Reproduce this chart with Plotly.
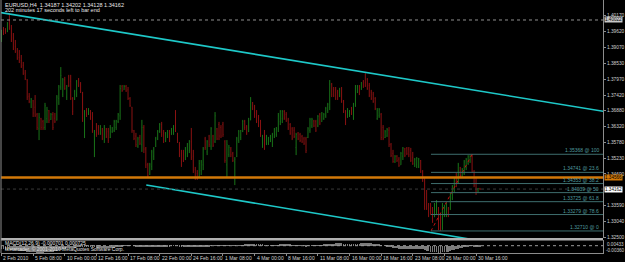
import plotly.graph_objects as go

# ---------------- DATA ----------------
opens = [1.3930,1.3972,1.3966,1.3962,1.3990,1.3972,1.3940,1.3910,1.3895,1.3872,
1.3862,1.3845,1.3818,1.3795,1.3738,1.3718,1.3722,1.3700,1.3675,1.3625,
1.3660,1.3650,1.3630,1.3660,1.3688,1.3658,1.3675,1.3662,1.3655,1.3730,
1.3770,1.3745,1.3795,1.3735,1.3805,1.3790,1.3730,1.3728,1.3745,1.3795,
1.3780,1.3750,1.3650,1.3690,1.3675,1.3688,1.3665,1.3580,1.3640,1.3630,
1.3608,1.3625,1.3590,1.3625,1.3615,1.3595,1.3615,1.3620,1.3630,1.3650,
1.3670,1.3772,1.3760,1.3772,1.3760,1.3730,1.3700,1.3618,1.3600,1.3565,
1.3595,1.3570,1.3630,1.3555,1.3500,1.3468,1.3495,1.3530,1.3565,1.3590,
1.3615,1.3640,1.3610,1.3582,1.3600,1.3615,1.3605,1.3610,1.3640,1.3610,
1.3578,1.3540,1.3535,1.3518,1.3540,1.3550,1.3580,1.3530,1.3485,1.3470,
1.3460,1.3480,1.3500,1.3590,1.3545,1.3600,1.3565,1.3600,1.3580,1.3625,
1.3640,1.3630,1.3640,1.3580,1.3500,1.3535,1.3555,1.3540,1.3510,1.3530,
1.3585,1.3595,1.3615,1.3650,1.3632,1.3615,1.3655,1.3715,1.3700,1.3680,
1.3660,1.3645,1.3565,1.3605,1.3570,1.3575,1.3582,1.3570,1.3600,1.3605,
1.3625,1.3650,1.3660,1.3685,1.3675,1.3655,1.3640,1.3625,1.3620,1.3560,
1.3610,1.3605,1.3598,1.3590,1.3590,1.3595,1.3620,1.3635,1.3652,1.3650,
1.3635,1.3675,1.3650,1.3660,1.3670,1.3690,1.3700,1.3780,1.3760,1.3762,
1.3752,1.3738,1.3765,1.3720,1.3685,1.3665,1.3670,1.3695,1.3670,1.3710,
1.3752,1.3772,1.3762,1.3790,1.3785,1.3795,1.3775,1.3752,1.3745,1.3730,
1.3660,1.3670,1.3675,1.3630,1.3595,1.3600,1.3620,1.3570,1.3540,1.3510,
1.3530,1.3520,1.3500,1.3530,1.3555,1.3558,1.3555,1.3550,1.3525,1.3495,
1.3500,1.3495,1.3515,1.3478,1.3450,1.3400,1.3360,1.3350,1.3340,1.3320,
1.3335,1.3350,1.3300,1.3275,1.3325,1.3322,1.3350,1.3345,1.3385,1.3410,
1.3460,1.3440,1.3490,1.3462,1.3470,1.3490,1.3505,1.3510,1.3530,1.3478,
1.3435,1.3405,1.34187]

highs = [1.3968,1.3978,1.3974,1.3995,1.4026,1.3985,1.3957,1.3933,1.3905,1.3898,
1.3881,1.3857,1.3829,1.3797,1.3749,1.3732,1.3725,1.3742,1.3680,1.3680,
1.3663,1.3656,1.3715,1.3701,1.3690,1.3680,1.3683,1.3680,1.3742,1.3777,
1.3839,1.3801,1.3805,1.3777,1.3812,1.3812,1.3735,1.3760,1.3794,1.3801,
1.3787,1.3753,1.3690,1.3697,1.3697,1.3690,1.3683,1.3621,1.3645,1.3638,
1.3638,1.3628,1.3638,1.3628,1.3628,1.3638,1.3631,1.3656,1.3656,1.3680,
1.3777,1.3777,1.3777,1.3777,1.3770,1.3735,1.3701,1.3621,1.3611,1.3597,
1.3604,1.3656,1.3638,1.3562,1.3507,1.3507,1.3552,1.3562,1.3597,1.3621,
1.3645,1.3649,1.3621,1.3614,1.3621,1.3621,1.3628,1.3638,1.3690,1.3611,
1.3579,1.3552,1.3552,1.3562,1.3576,1.3586,1.3628,1.3552,1.3493,1.3482,
1.3517,1.3517,1.3562,1.3597,1.3586,1.3604,1.3631,1.3604,1.3683,1.3628,
1.3649,1.3638,1.3649,1.3586,1.3586,1.3569,1.3562,1.3545,1.3527,1.3597,
1.3621,1.3621,1.3656,1.3656,1.3638,1.3663,1.3735,1.3718,1.3708,1.3690,
1.3673,1.3656,1.3604,1.3621,1.3604,1.3597,1.3604,1.3611,1.3628,1.3631,
1.3680,1.3690,1.3690,1.3690,1.3683,1.3663,1.3645,1.3631,1.3631,1.3611,
1.3614,1.3611,1.3604,1.3597,1.3597,1.3631,1.3663,1.3663,1.3656,1.3656,
1.3673,1.3680,1.3683,1.3680,1.3701,1.3715,1.3794,1.3784,1.3770,1.3770,
1.3760,1.3767,1.3770,1.3725,1.3690,1.3697,1.3690,1.3701,1.3715,1.3777,
1.3777,1.3777,1.3787,1.3794,1.3818,1.3801,1.3784,1.3760,1.3753,1.3735,
1.3697,1.3697,1.3680,1.3638,1.3621,1.3628,1.3631,1.3576,1.3552,1.3534,
1.3534,1.3527,1.3545,1.3562,1.3559,1.3562,1.3562,1.3559,1.3545,1.3524,
1.3527,1.3524,1.3517,1.3482,1.3458,1.3413,1.3368,1.3368,1.3354,1.3368,
1.3378,1.3354,1.3333,1.3368,1.3361,1.3368,1.3354,1.3403,1.3430,1.3458,
1.3472,1.3507,1.3493,1.3489,1.3517,1.3524,1.3534,1.3534,1.35368,1.3482,
1.3458,1.3420,1.34202]

lows = [1.3926,1.3950,1.3954,1.3960,1.3968,1.3926,1.3898,1.3888,1.3864,1.3853,
1.3836,1.3812,1.3794,1.3725,1.3714,1.3697,1.3666,1.3666,1.3621,1.3586,
1.3621,1.3621,1.3621,1.3645,1.3645,1.3656,1.3621,1.3645,1.3654,1.3708,
1.3760,1.3735,1.3760,1.3725,1.3770,1.3725,1.3673,1.3725,1.3735,1.3770,
1.3749,1.3649,1.3593,1.3666,1.3673,1.3656,1.3611,1.3527,1.3597,1.3604,
1.3604,1.3586,1.3576,1.3593,1.3576,1.3593,1.3611,1.3614,1.3621,1.3645,
1.3656,1.3753,1.3760,1.3753,1.3725,1.3701,1.3611,1.3586,1.3562,1.3559,
1.3569,1.3545,1.3541,1.3489,1.3455,1.3465,1.3482,1.3517,1.3562,1.3586,
1.3611,1.3597,1.3576,1.3579,1.3593,1.3579,1.3604,1.3604,1.3614,1.3576,
1.3527,1.3493,1.3510,1.3517,1.3527,1.3541,1.3517,1.3472,1.3448,1.3448,
1.3458,1.3465,1.3482,1.3552,1.3534,1.3562,1.3552,1.3562,1.3576,1.3586,
1.3586,1.3593,1.3597,1.3507,1.3458,1.3527,1.3527,1.3510,1.3430,1.3527,
1.3576,1.3586,1.3614,1.3621,1.3604,1.3614,1.3655,1.3690,1.3663,1.3645,
1.3631,1.3597,1.3559,1.3552,1.3569,1.3569,1.3579,1.3562,1.3593,1.3597,
1.3614,1.3638,1.3645,1.3656,1.3649,1.3621,1.3604,1.3586,1.3593,1.3534,
1.3586,1.3579,1.3576,1.3569,1.3541,1.3593,1.3611,1.3628,1.3631,1.3614,
1.3631,1.3638,1.3649,1.3656,1.3663,1.3680,1.3690,1.3735,1.3735,1.3725,
1.3725,1.3735,1.3715,1.3680,1.3638,1.3663,1.3666,1.3673,1.3656,1.3701,
1.3749,1.3742,1.3760,1.3767,1.3770,1.3760,1.3735,1.3725,1.3715,1.3690,
1.3656,1.3663,1.3586,1.3586,1.3593,1.3597,1.3562,1.3527,1.3507,1.3507,
1.3510,1.3493,1.3500,1.3517,1.3527,1.3534,1.3527,1.3510,1.3500,1.3493,
1.3489,1.3489,1.3472,1.3441,1.3344,1.3344,1.3319,1.3326,1.3299,1.3319,
1.3326,1.3274,1.3271,1.3275,1.3319,1.3319,1.3319,1.3344,1.3378,1.3403,
1.3423,1.3437,1.3458,1.3458,1.3465,1.3482,1.3500,1.3507,1.3472,1.3423,
1.3396,1.3403,1.34128]

closes = [1.3962,1.3955,1.3958,1.3990,1.3972,1.3935,1.3905,1.3892,1.3870,1.3860,
1.3840,1.3815,1.3798,1.3735,1.3720,1.3728,1.3680,1.3672,1.3630,1.3665,
1.3630,1.3628,1.3705,1.3690,1.3655,1.3675,1.3630,1.3650,1.3735,1.3770,
1.3810,1.3795,1.3765,1.3770,1.3775,1.3730,1.3685,1.3755,1.3790,1.3775,
1.3752,1.3660,1.3685,1.3670,1.3692,1.3660,1.3620,1.3615,1.3605,1.3610,
1.3632,1.3592,1.3630,1.3598,1.3585,1.3630,1.3628,1.3650,1.3652,1.3675,
1.3765,1.3758,1.3772,1.3756,1.3730,1.3705,1.3620,1.3592,1.3570,1.3590,
1.3575,1.3630,1.3555,1.3500,1.3462,1.3500,1.3545,1.3555,1.3590,1.3615,
1.3640,1.3605,1.3580,1.3608,1.3618,1.3585,1.3625,1.3632,1.3620,1.3580,
1.3535,1.3500,1.3515,1.3555,1.3570,1.3580,1.3525,1.3480,1.3455,1.3452,
1.3505,1.3510,1.3555,1.3560,1.3580,1.3570,1.3625,1.3568,1.3670,1.3590,
1.3600,1.3600,1.3605,1.3515,1.3570,1.3560,1.3535,1.3515,1.3520,1.3590,
1.3615,1.3618,1.3650,1.3630,1.3610,1.3655,1.3725,1.3695,1.3670,1.3650,
1.3638,1.3605,1.3598,1.3565,1.3600,1.3590,1.3600,1.3605,1.3622,1.3628,
1.3670,1.3685,1.3686,1.3662,1.3652,1.3628,1.3610,1.3592,1.3598,1.3605,
1.3590,1.3585,1.3580,1.3575,1.3550,1.3625,1.3658,1.3658,1.3635,1.3620,
1.3668,1.3645,1.3680,1.3675,1.3695,1.3710,1.3780,1.3745,1.3740,1.3730,
1.3735,1.3762,1.3720,1.3685,1.3645,1.3690,1.3685,1.3678,1.3710,1.3770,
1.3772,1.3748,1.3785,1.3770,1.3775,1.3765,1.3740,1.3730,1.3720,1.3695,
1.3690,1.3692,1.3595,1.3592,1.3615,1.3622,1.3570,1.3532,1.3512,1.3530,
1.3515,1.3498,1.3540,1.3558,1.3532,1.3540,1.3535,1.3515,1.3505,1.3518,
1.3522,1.3520,1.3478,1.3445,1.3355,1.3350,1.3325,1.3330,1.3305,1.3360,
1.3370,1.3285,1.3275,1.3360,1.3355,1.3362,1.3325,1.3398,1.3425,1.3452,
1.3430,1.3500,1.3465,1.3485,1.3510,1.3518,1.3528,1.3530,1.3478,1.3430,
1.3405,1.3418,1.34162]

macd = [-0.0030,-0.0031,-0.0032,-0.0032,-0.0031,-0.0032,-0.0034,-0.0036,-0.0038,-0.0040,
-0.0042,-0.0044,-0.0046,-0.0049,-0.0051,-0.0052,-0.0054,-0.0055,-0.0057,-0.0057,
-0.0057,-0.0057,-0.0055,-0.0053,-0.0052,-0.0050,-0.0049,-0.0047,-0.0043,-0.0038,
-0.0032,-0.0028,-0.0025,-0.0022,-0.0019,-0.0018,-0.0018,-0.0015,-0.0011,-0.0009,
-0.0008,-0.0009,-0.0010,-0.0011,-0.0011,-0.0012,-0.0013,-0.0014,-0.0015,-0.0016,
-0.0016,-0.0017,-0.0017,-0.0017,-0.0018,-0.0017,-0.0016,-0.0015,-0.0014,-0.0012,
-0.0007,-0.0004,-0.0001,0.0001,0.0002,0.0002,0.0000,-0.0002,-0.0004,-0.0005,
-0.0006,-0.0005,-0.0007,-0.0010,-0.0013,-0.0014,-0.0013,-0.0012,-0.0010,-0.0008,
-0.0006,-0.0005,-0.0005,-0.0004,-0.0003,-0.0003,-0.0002,-0.0001,-0.0001,-0.0002,
-0.0004,-0.0006,-0.0007,-0.0007,-0.0006,-0.0005,-0.0006,-0.0008,-0.0010,-0.0012,
-0.0011,-0.0010,-0.0008,-0.0006,-0.0004,-0.0003,-0.0001,0.0000,0.0003,0.0003,
0.0004,0.0004,0.0004,0.0002,0.0002,0.0001,0.0000,-0.0001,-0.0002,0.0000,
0.0002,0.0003,0.0005,0.0006,0.0006,0.0008,0.0011,0.0012,0.0012,0.0012,
0.0011,0.0009,0.0007,0.0005,0.0004,0.0003,0.0003,0.0003,0.0003,0.0003,
0.0005,0.0007,0.0008,0.0009,0.0009,0.0008,0.0007,0.0005,0.0004,0.0004,
0.0003,0.0001,0.0000,-0.0001,-0.0003,-0.0002,0.0000,0.0001,0.0002,0.0002,
0.0003,0.0004,0.0005,0.0006,0.0008,0.0009,0.0014,0.0016,0.0018,0.0019,
0.0020,0.0021,0.0020,0.0018,0.0015,0.0014,0.0013,0.0012,0.0012,0.0015,
0.0017,0.0018,0.0020,0.0021,0.0022,0.0022,0.0021,0.0019,0.0017,0.0015,
0.0011,0.0009,0.0004,0.0000,-0.0002,-0.0004,-0.0008,-0.0012,-0.0017,-0.0020,
-0.0022,-0.0025,-0.0025,-0.0024,-0.0024,-0.0024,-0.0024,-0.0025,-0.0026,-0.0026,
-0.0026,-0.0025,-0.0027,-0.0030,-0.0036,-0.0040,-0.0045,-0.0048,-0.0052,-0.0053,
-0.0053,-0.0056,-0.0058,-0.0055,-0.0053,-0.0050,-0.0049,-0.0044,-0.0039,-0.0033,
-0.0029,-0.0023,-0.0020,-0.0016,-0.0012,-0.0008,-0.0005,-0.0002,-0.0002,-0.0003,
-0.0005,-0.0006,-0.0007]

time_tick_bars = [0, 16, 32, 48, 64, 80, 96, 112, 128, 144, 160, 176, 192, 208, 224, 240]
time_tick_labels = ["2 Feb 2010", "5 Feb 08:00", "10 Feb 00:00", "12 Feb 16:00", "17 Feb 08:00",
                    "22 Feb 00:00", "24 Feb 16:00", "1 Mar 08:00", "4 Mar 00:00", "8 Mar 16:00",
                    "11 Mar 08:00", "16 Mar 00:00", "18 Mar 16:00", "23 Mar 08:00", "26 Mar 00:00",
                    "30 Mar 16:00"]

price_ticks = [1.40170, 1.39620, 1.39070, 1.38530, 1.37970, 1.37420, 1.36880, 1.36320,
               1.35780, 1.35230, 1.34690, 1.33590, 1.33040, 1.32500]
price_tick_labels = ["1.40170", "1.39620", "1.39070", "1.38530", "1.37970", "1.37420", "1.36880",
                     "1.36320", "1.35780", "1.35230", "1.34690", "1.33590", "1.33040", "1.32500"]

macd_max_label = "0.00433"
macd_min_label = "-0.00360"

fib_prices = [1.35368, 1.34741, 1.34353, 1.34039, 1.33725, 1.33279, 1.32710]
fib_labels = ["1.35368 @ 100", "1.34741 @ 23.6", "1.34353 @ 38.2", "1.34039 @ 50",
              "1.33725 @ 61.8", "1.33279 @ 78.6", "1.32710 @ 0"]
fib_anchor_bars = [217.2, 238.0]
fib_anchor_prices = [1.32710, 1.35368]

upper_channel_bars = [-1.0, 305.0]
upper_channel_prices = [1.40285, 1.36850]
lower_channel_bars = [73.2, 241.0]
lower_channel_prices = [1.34303, 1.32380]

support_price = 1.34566
top_dotted_price = 1.40022
bid_price = 1.34162

title_text = "EURUSD,H4  1.34187 1.34202 1.34128 1.34162"
timer_text = "202 minutes 17 seconds left to bar end"
macd_text = "MACD(12,26,9) -0.000701 0.000725"
copyright_text = "Metatrader, \u00a9 2001-2010 MetaQuotes Software Corp."

n = len(closes)
assert len(opens) == n and len(highs) == n and len(lows) == n and len(macd) == n
bars = list(range(n))

# ---------------- LAYOUT GEOMETRY ----------------
W, H = 625, 262
ML, MR, MT, MB = 1, 19, 0, 9
PH = H - MT - MB  # 253
def py(p):  # pixel from top -> paper y
    return (PH - p) / PH

X_RANGE = [-0.25, 304.2]
Y_RANGE = [1.32466, 1.40715]
M_RANGE = [-0.0060, 0.00468]

FONT = "Liberation Sans, Arial, sans-serif"
TXT = "#d0d0d0"
AX = "#8c8c8c"

fig = go.Figure()

fig.add_trace(go.Ohlc(
    x=bars, open=opens, high=highs, low=lows, close=closes,
    increasing=dict(line=dict(color="#197419", width=1)),
    decreasing=dict(line=dict(color="#8a1212", width=1)),
    tickwidth=0.2, xaxis="x", yaxis="y", hoverinfo="skip", showlegend=False))

fig.add_trace(go.Scatter(x=upper_channel_bars, y=upper_channel_prices, mode="lines",
                         line=dict(color="#1ec8c8", width=1.6), xaxis="x", yaxis="y",
                         showlegend=False, hoverinfo="skip"))
fig.add_trace(go.Scatter(x=lower_channel_bars, y=lower_channel_prices, mode="lines",
                         line=dict(color="#1ec8c8", width=1.6), xaxis="x", yaxis="y",
                         showlegend=False, hoverinfo="skip"))
fig.add_trace(go.Scatter(x=fib_anchor_bars, y=fib_anchor_prices, mode="lines",
                         line=dict(color="#c01010", width=1, dash="dot"), xaxis="x", yaxis="y",
                         showlegend=False, hoverinfo="skip"))

fig.add_trace(go.Bar(x=bars, y=macd, marker=dict(color="#7c7c7c", line=dict(width=0)),
                     width=0.4, xaxis="x", yaxis="y2", showlegend=False, hoverinfo="skip"))

shapes = []
for fp in fib_prices:
    shapes.append(dict(type="line", xref="x", yref="y", x0=fib_anchor_bars[0], x1=X_RANGE[1],
                       y0=fp, y1=fp, line=dict(color="#3e6e6e", width=1)))
shapes.append(dict(type="line", xref="paper", yref="y", x0=0, x1=1, y0=support_price, y1=support_price,
                   line=dict(color="#d27808", width=2.5)))
shapes.append(dict(type="line", xref="paper", yref="y", x0=0, x1=1, y0=top_dotted_price, y1=top_dotted_price,
                   line=dict(color="#909090", width=1, dash="dot")))
shapes.append(dict(type="line", xref="paper", yref="y", x0=0, x1=1, y0=bid_price, y1=bid_price,
                   line=dict(color="#3a3a3a", width=1, dash="dot")))
shapes.append(dict(type="line", xref="paper", yref="y2", x0=0, x1=1, y0=0, y1=0,
                   line=dict(color="#9a9a9a", width=1, dash="dot")))
shapes.append(dict(type="rect", xref="paper", yref="paper", x0=0, x1=1, y0=py(240.5), y1=py(238),
                   fillcolor="#b0b0b0", line=dict(width=0), layer="above"))
shapes.append(dict(type="line", xref="paper", yref="paper", x0=0, x1=0, y0=0, y1=1,
                   line=dict(color=AX, width=1)))

ann = []
def txt(text, x, ypix, size=5.5, color="#e8e8e8", xanchor="left"):
    ann.append(dict(text=text, xref="paper", yref="paper", x=x, y=py(ypix), xanchor=xanchor,
                    yanchor="middle", showarrow=False, font=dict(family=FONT, size=size, color=color)))
txt(title_text, 0.003, 4.5)
txt(timer_text, 0.003, 10.5)
txt(macd_text, 0.003, 243.3, size=5, color="#e0e0e0")
txt(copyright_text, 0.003, 248.7, size=5, color="#e0e0e0")
for fp, fl in zip(fib_prices, fib_labels):
    ann.append(dict(text=fl, xref="paper", yref="y", x=0.997, y=fp, xanchor="right", yanchor="bottom",
                    yshift=-1, showarrow=False, font=dict(family=FONT, size=5, color="#4f9a9f")))
for b, t in zip(time_tick_bars, time_tick_labels):
    ann.append(dict(text=t, xref="x", yref="paper", x=b, y=py(257.5), xanchor="left", yanchor="middle",
                    showarrow=False, font=dict(family=FONT, size=5, color=TXT)))
ann.append(dict(text=macd_max_label, xref="paper", yref="paper", x=1.0, y=py(244.2), xanchor="left",
                yanchor="middle", xshift=2, showarrow=False, font=dict(family=FONT, size=4.6, color=TXT)))
ann.append(dict(text=macd_min_label, xref="paper", yref="paper", x=1.0, y=py(250.3), xanchor="left",
                yanchor="middle", xshift=1, showarrow=False, font=dict(family=FONT, size=4.6, color=TXT)))

def box(price, text, bg, fg):
    ann.append(dict(text=text, xref="paper", yref="y", x=1.0, y=price, xanchor="left", yanchor="middle",
                    xshift=1, showarrow=False, bgcolor=bg, borderpad=0, height=5,
                    font=dict(family=FONT, size=4.6, color=fg)))
box(top_dotted_price, "1.40022", "#c8c8c8", "#000000")
box(support_price, "1.34566", "#d27808", "#000000")
box(bid_price, "1.34162", "#ffffff", "#000000")

fig.update_layout(
    width=W, height=H, margin=dict(l=ML, r=MR, t=MT, b=MB, pad=0),
    paper_bgcolor="#000000", plot_bgcolor="#000000",
    shapes=shapes, annotations=ann, bargap=0, showlegend=False,
    xaxis=dict(range=X_RANGE, anchor="y2", domain=[0, 1], showgrid=False, zeroline=False,
               tickvals=time_tick_bars, showticklabels=False, ticks="outside", ticklen=2,
               tickcolor=AX, showline=True, linecolor=AX, linewidth=1,
               rangeslider=dict(visible=False), fixedrange=True),
    yaxis=dict(range=Y_RANGE, domain=[1 - 238 / PH, 1], side="right", anchor="x", showgrid=False,
               zeroline=False, tickvals=price_ticks, ticktext=price_tick_labels, ticks="outside",
               ticklen=2, tickcolor=AX, showline=True, linecolor=AX, linewidth=1,
               tickfont=dict(family=FONT, size=4.8, color=TXT)),
    yaxis2=dict(range=M_RANGE, domain=[0, 13 / PH], side="right", anchor="x", showgrid=False,
                zeroline=False, showticklabels=False, ticks="", showline=True, linecolor=AX,
                linewidth=1),
)

fig.write_html("out.html")
